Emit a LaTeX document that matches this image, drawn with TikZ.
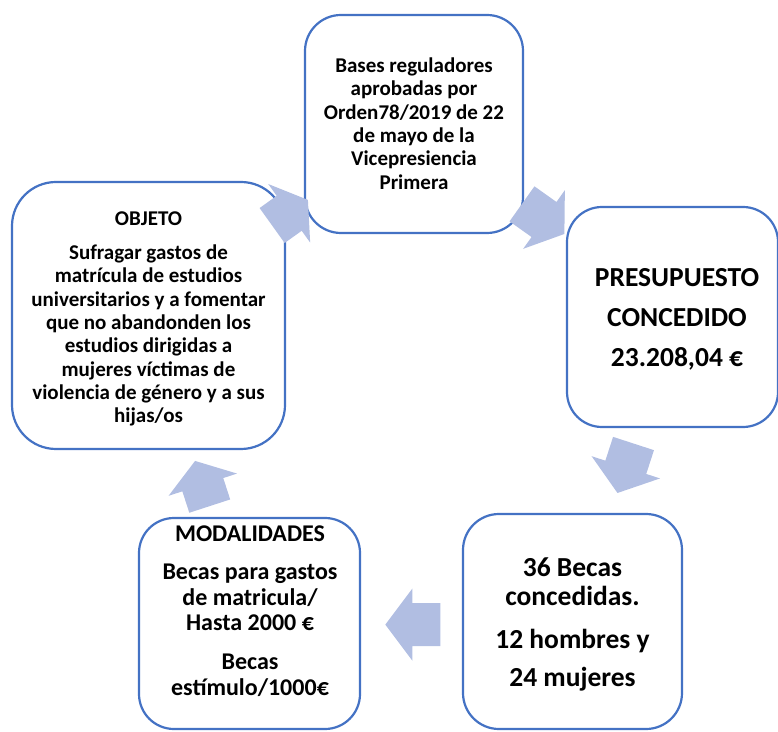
\documentclass[tikz,border=0pt]{standalone}
\usepackage{fontspec}
\setmainfont{Carlito}
\definecolor{boxblue}{HTML}{4472C4}
\definecolor{arrowfill}{RGB}{177,190,226}
\tikzset{
  cyclebox/.style={draw=boxblue, line width=2.2pt, fill=white, inner sep=0pt},
  txt/.style={align=center, inner sep=0pt, font=\bfseries},
}
\newcommand{\blockarrow}[4]{% at, angle, shaft, head
  \fill[arrowfill, shift={(#1)}, rotate=#2] (-#3,-21.5) -- (0,-21.5) -- (0,-36) -- (#4,0) -- (0,36) -- (0,21.5) -- (-#3,21.5) -- cycle;}
\begin{document}
\begin{tikzpicture}[x=1pt,y=1pt]
\useasboundingbox (0,0) rectangle (778,731);
% boxes (y = 731 - pixel row)
\node[cyclebox, minimum width=273pt, minimum height=267pt, rounded corners=44pt] (obj) at (148.5,415.5) {};
\node[cyclebox, minimum width=218pt, minimum height=218pt, rounded corners=36pt] (top) at (414,607) {};
\node[cyclebox, minimum width=211pt, minimum height=220pt, rounded corners=35pt] (pres) at (672.5,414) {};
\node[cyclebox, minimum width=221pt, minimum height=211pt, rounded corners=35pt] (mod) at (249.5,107.5) {};
\node[cyclebox, minimum width=219pt, minimum height=215pt, rounded corners=36pt] (becas) at (572.5,109.5) {};
% texts
\node[txt, font=\bfseries\fontsize{21}{23.3}\selectfont] (toptxt) at (414,607.5)
  {Bases reguladores\\aprobadas por\\Orden78/2019 de 22\\de mayo de la\\Vicepresiencia\\Primera};
\node[txt, font=\bfseries\fontsize{21}{23.3}\selectfont] (objtxt) at (148.5,412)
  {OBJETO\\[10.7pt]Sufragar gastos de\\matrícula de estudios\\universitarios y a fomentar\\que no abandonden los\\estudios dirigidas a\\mujeres víctimas de\\violencia de género y a sus\\hijas/os};
\node[txt, font=\bfseries\fontsize{27.5}{40}\selectfont] (prestxt) at (677,412)
  {PRESUPUESTO\\CONCEDIDO\\23.208,04 €};
\node[txt, font=\bfseries\fontsize{24}{25.5}\selectfont] (modtxt) at (250,120)
  {MODALIDADES\\[12.5pt]Becas para gastos\\de matricula/\\Hasta 2000 €\\[13.5pt]Becas\\estímulo/1000€};
\node[txt, font=\bfseries\fontsize{27.5}{29}\selectfont] (becastxt) at (572.5,106.5)
  {36 Becas\\concedidas.\\[14pt]12 hombres y\\[9pt]24 mujeres};
% arrows
\coordinate (a1) at (289.2,517.7);
\coordinate (a2) at (544,511.5);
\coordinate (a3) at (625.8,263.7);
\coordinate (a4) at (412.3,106.4);
\coordinate (a5) at (202.8,246.3);
\blockarrow{a1}{35.6}{21}{23}
\blockarrow{a2}{-35.4}{27}{25}
\blockarrow{a3}{-108}{25}{27}
\blockarrow{a4}{180}{28}{27}
\blockarrow{a5}{108}{22.5}{25}
\end{tikzpicture}
\end{document}
